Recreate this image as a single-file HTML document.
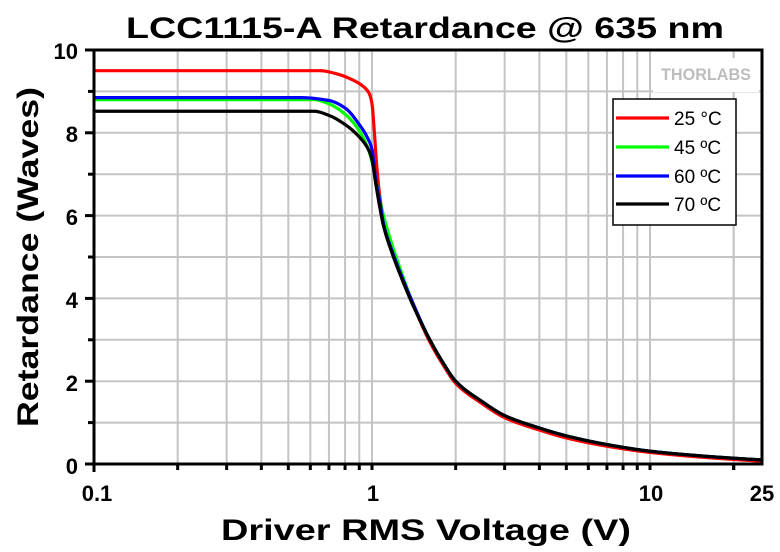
<!DOCTYPE html>
<html><head><meta charset="utf-8"><style>html,body{margin:0;padding:0;background:#fff}svg{display:block}</style></head>
<body>
<svg id="s" width="780" height="552" xmlns="http://www.w3.org/2000/svg" font-family="Liberation Sans, Arial, sans-serif">
<rect width="780" height="552" fill="#fff"/>
<g id="grid" stroke="#c4c4c4" stroke-width="2"></g>
<rect x="653" y="58" width="106" height="34" fill="#fff"/>
<text x="706" y="80" font-size="17" font-weight="bold" fill="#bdbdbd" text-anchor="middle" textLength="90" lengthAdjust="spacingAndGlyphs">THORLABS</text>
<g id="curves" fill="none" stroke-width="3.2" stroke-linejoin="round"></g>
<g id="axes" stroke="#000" stroke-width="3" fill="none"></g>
<rect x="94" y="50" width="668" height="414" fill="none" stroke="#000" stroke-width="3"/>
<g font-size="22" font-weight="bold" fill="#000" text-anchor="end">
<text x="78" y="474">0</text><text x="78" y="391">2</text><text x="78" y="308">4</text><text x="78" y="225">6</text><text x="78" y="142">8</text><text x="78" y="59">10</text>
</g>
<g font-size="22" font-weight="bold" fill="#000" text-anchor="middle">
<text x="97" y="501">0.1</text><text x="373" y="501">1</text><text x="651" y="501">10</text><text x="762" y="501">25</text>
</g>
<text x="425" y="38" font-size="30" font-weight="bold" text-anchor="middle" textLength="598" lengthAdjust="spacingAndGlyphs">LCC1115-A Retardance @ 635 nm</text>
<text x="426" y="540" font-size="30" font-weight="bold" text-anchor="middle" textLength="410" lengthAdjust="spacingAndGlyphs">Driver RMS Voltage (V)</text>
<text transform="translate(38,257) rotate(-90)" font-size="30" font-weight="bold" text-anchor="middle" textLength="340" lengthAdjust="spacingAndGlyphs">Retardance (Waves)</text>
<rect x="613" y="99" width="123" height="126" fill="#fff" stroke="#000" stroke-width="1.5"/>
<g stroke-width="3.2">
<line x1="616" y1="118" x2="669" y2="118" stroke="#ff0000"/>
<line x1="616" y1="147" x2="669" y2="147" stroke="#00ff00"/>
<line x1="616" y1="176" x2="669" y2="176" stroke="#0000ff"/>
<line x1="616" y1="204" x2="669" y2="204" stroke="#000"/>
</g>
<g font-size="19" fill="#000">
<text x="674" y="125">25 °C</text><text x="674" y="154">45 ºC</text><text x="674" y="183">60 ºC</text><text x="674" y="211">70 ºC</text>
</g>
</svg>
<script>
var L=94,D=278,B=464,U=41.4,NS="http://www.w3.org/2000/svg";
function X(v){return L+D*(Math.log10(v)+1)}function Y(r){return B-U*r}
var g=document.getElementById('grid'),a=document.getElementById('axes');
function ln(p,x1,y1,x2,y2){var e=document.createElementNS(NS,'line');e.setAttribute('x1',x1);e.setAttribute('y1',y1);e.setAttribute('x2',x2);e.setAttribute('y2',y2);p.appendChild(e)}
for(var d=0.1;d<20;d*=10)for(var k=1;k<10;k++){var v=d*k;if(v>25)break;if(v<=0.1)continue;var x=X(v);ln(g,x,50,x,464);ln(a,x,464,x,470)}
ln(g,X(20),50,X(20),464);ln(a,X(20),464,X(20),470);ln(a,94,464,94,472);
for(var r=1;r<10;r++){ln(g,94,Y(r),762,Y(r))}
for(var r=0;r<=10;r++){ln(a,r%2?88:85,Y(r),94,Y(r))}
var tail=[[1.1,5.8],[1.18,5.15],[1.25,4.7],[1.39,3.95],[1.6,3.05],[1.8,2.45],[2,2.0],[2.5,1.5],[3,1.17],[4,0.87],[5,0.68],[7,0.47],[10,0.31],[15,0.2],[20,0.14],[25,0.1]];
var S={
'#ff0000':[[0.1,9.5],[0.65,9.5],[0.75,9.42],[0.85,9.28],[0.93,9.12],[0.975,8.96],[1.0,8.7],[1.02,8.0],[1.04,7.2],[1.07,6.4],[1.1,5.95],[1.18,5.2],[1.25,4.7],[1.39,3.93],[1.6,3.0],[1.8,2.4],[2,1.95],[2.5,1.45],[3,1.12],[4,0.82],[5,0.63],[7,0.43],[10,0.28],[15,0.17],[20,0.11],[25,0.07]],
'#00ff00':[[0.1,8.8],[0.62,8.8],[0.7,8.7],[0.8,8.45],[0.9,8.05],[0.97,7.6],[1.0,7.3],[1.03,6.9],[1.07,6.35],[1.1,6.0],[1.18,5.3],[1.25,4.8]].concat(tail.slice(3)),
'#0000ff':[[0.1,8.85],[0.55,8.85],[0.7,8.78],[0.8,8.6],[0.9,8.2],[0.96,7.9],[1.0,7.6],[1.03,6.9],[1.07,6.3]].concat(tail),
'#000000':[[0.1,8.52],[0.62,8.52],[0.7,8.42],[0.8,8.2],[0.9,7.9],[0.97,7.6],[1.0,7.35],[1.03,6.8],[1.07,6.15],[1.1,5.75],[1.18,5.1],[1.25,4.65],[1.39,3.9]].concat(tail.slice(4))};
function mono(xs,ys){var n=xs.length,dl=[],m=[];for(var i=0;i<n-1;i++)dl.push((ys[i+1]-ys[i])/(xs[i+1]-xs[i]));
m[0]=dl[0];m[n-1]=dl[n-2];for(var i=1;i<n-1;i++){if(dl[i-1]*dl[i]<=0)m[i]=0;else{var h0=xs[i]-xs[i-1],h1=xs[i+1]-xs[i];var w1=2*h1+h0,w2=h1+2*h0;m[i]=(w1+w2)/(w1/dl[i-1]+w2/dl[i]);}}
return function(x){var i=0;while(i<n-2&&x>xs[i+1])i++;var h=xs[i+1]-xs[i],t=(x-xs[i])/h,t2=t*t,t3=t2*t;
return (2*t3-3*t2+1)*ys[i]+(t3-2*t2+t)*h*m[i]+(-2*t3+3*t2)*ys[i+1]+(t3-t2)*h*m[i+1];}}
var c=document.getElementById('curves');
for(var col in S){var xs=S[col].map(function(q){return X(q[0])}),ys=S[col].map(function(q){return Y(q[1])});
var f=mono(xs,ys),d='';for(var x=xs[0];x<=xs[xs.length-1]+0.01;x+=0.5){d+=(d?' L':'M')+x.toFixed(1)+','+f(x).toFixed(2);}
var e=document.createElementNS(NS,'path');e.setAttribute('d',d);e.setAttribute('stroke',col);c.appendChild(e)}
</script>
</body></html>
